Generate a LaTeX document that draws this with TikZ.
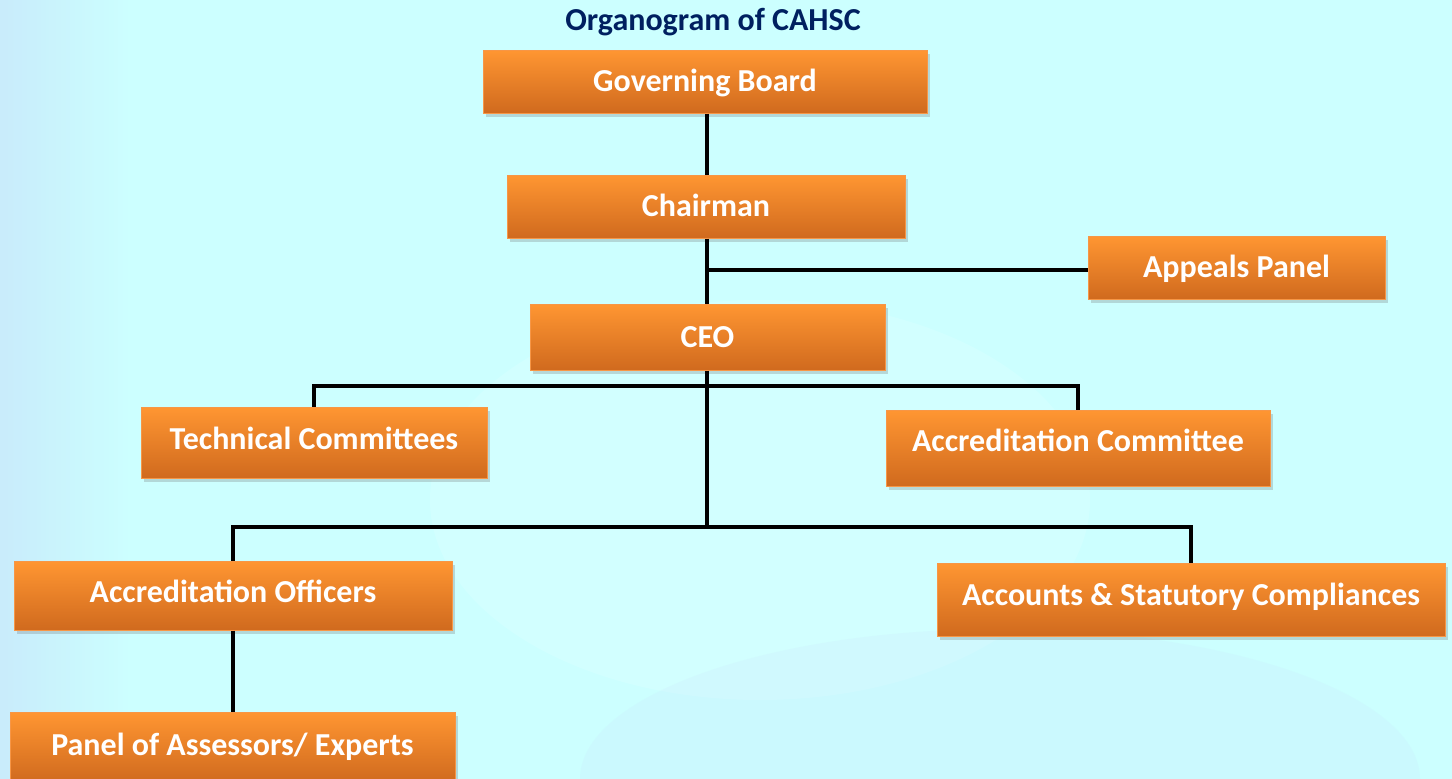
\documentclass[tikz,border=0pt]{standalone}
\usepackage{fontspec}
\setmainfont{Carlito}
\usetikzlibrary{shadows,calc}
\definecolor{bgcyan}{RGB}{204,255,255}
\definecolor{navy}{RGB}{0,32,96}
\definecolor{orgtop}{RGB}{255,150,50}
\definecolor{orgbot}{RGB}{208,106,30}
\definecolor{orgline}{RGB}{247,150,70}
\definecolor{paleblue}{RGB}{200,228,250}
\tikzset{
  orgbox/.style={draw=orgline, line width=1pt, top color=orgtop, bottom color=orgbot,
    inner sep=0pt, text=white, font=\fontsize{32}{38}\selectfont\bfseries,
    text height=20.5pt, text depth=0pt,
    drop shadow={shadow xshift=3pt, shadow yshift=-4pt, opacity=0.25, fill=black!60}},
  conn/.style={line width=3.2pt, black},
}
\begin{document}
\begin{tikzpicture}[x=1pt,y=-1pt]
\path[use as bounding box] (0,0) rectangle (1452,779);
\begin{scope}
\clip (0,0) rectangle (1452,779);
\fill[bgcyan] (0,0) rectangle (1452,779);
\shade[left color=paleblue, right color=bgcyan, opacity=0.7] (0,0) rectangle (130,779);
\fill[white, opacity=0.12] (760,500) ellipse [x radius=330, y radius=200];
\fill[paleblue, opacity=0.2] (1000,779) ellipse [x radius=420, y radius=150];

\node[font=\fontsize{32}{38}\selectfont\bfseries, text=navy] (title) at (713,22) {Organogram of CAHSC};

\node[orgbox, minimum width=444pt, minimum height=63pt] (gb) at (705,81.5) {Governing Board};
\node[orgbox, minimum width=398pt, minimum height=63pt] (ch) at (706,206.5) {Chairman};
\node[orgbox, minimum width=297pt, minimum height=63pt] (ap) at (1236.5,267.5) {Appeals Panel};
\node[orgbox, minimum width=355pt, minimum height=66pt] (ceo) at (707.5,337) {CEO};
\node[orgbox, minimum width=346pt, minimum height=71pt, text depth=7pt] (tc) at (314,442.5) {Technical Committees};
\node[orgbox, minimum width=384pt, minimum height=76pt, text depth=13pt] (ac) at (1078,448) {Accreditation Committee};
\node[orgbox, minimum width=438pt, minimum height=69pt, text depth=7pt] (ao) at (233,595.5) {Accreditation Officers};
\node[orgbox, minimum width=508pt, minimum height=73pt, text depth=9pt] (acs) at (1191,599.5) {Accounts \& Statutory Compliances};
\node[orgbox, minimum width=445pt, minimum height=70pt, text depth=4pt] (pa) at (232.5,747) {Panel of Assessors/ Experts};

\coordinate (a1) at (707,270);
\coordinate (b1) at (707,386);
\coordinate (j2) at (707,527);

\draw[conn] (gb.south -| a1) -- (ch.north -| a1);
\draw[conn] (ch.south -| a1) -- (ceo.north -| a1);
\draw[conn] (a1) -- (a1 -| ap.west);
\draw[conn] (ceo.south -| a1) -- (j2);
\draw[conn] (tc.north) |- (b1) -| (ac.north);
\draw[conn] (ao.north) |- (j2) -| (acs.north);
\draw[conn] (ao.south) -- (pa.north -| ao.south);
\end{scope}
\end{tikzpicture}
\end{document}
